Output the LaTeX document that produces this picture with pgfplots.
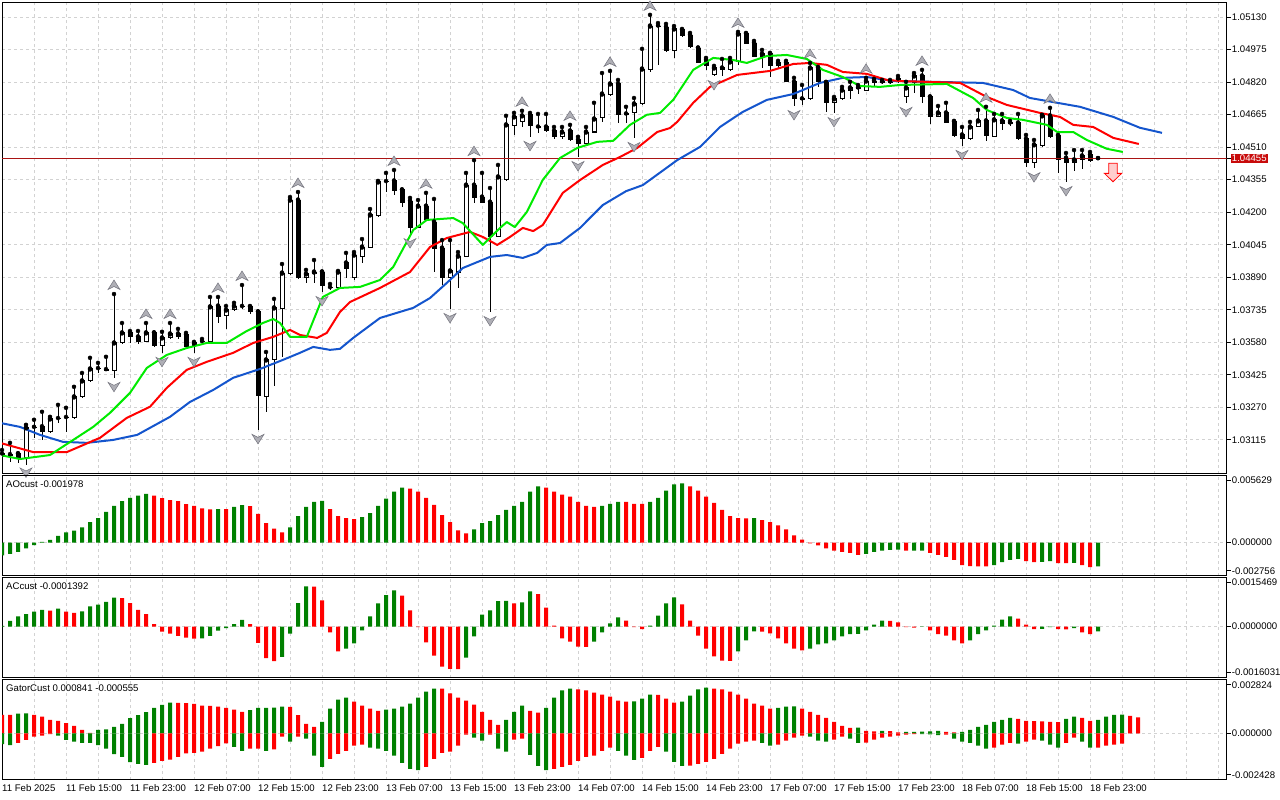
\documentclass[border=0pt]{standalone}
\usepackage{fontspec}
\setmainfont{Liberation Sans}
\usepackage{pgfplots}
\pgfplotsset{compat=1.18}
\usepackage{pgfplotstable}

\definecolor{jaw}{RGB}{20,85,205}
\definecolor{teeth}{RGB}{255,0,0}
\definecolor{lips}{RGB}{0,235,0}
\definecolor{aogreen}{RGB}{0,128,0}
\definecolor{aored}{RGB}{255,0,0}
\definecolor{gridc}{RGB}{210,210,210}
\definecolor{pline}{RGB}{170,20,20}
\definecolor{pbox}{RGB}{200,10,10}
\definecolor{fracfill}{RGB}{175,175,182}
\definecolor{fracdraw}{RGB}{115,115,125}
\definecolor{sigfill}{RGB}{255,205,205}

\newcommand\lf{\fontsize{9.6pt}{11pt}\selectfont}

\pgfdeclareplotmark{fup}{%
  \pgfpathmoveto{\pgfqpoint{0pt}{5pt}}%
  \pgfpathlineto{\pgfqpoint{6pt}{-4.5pt}}%
  \pgfpathlineto{\pgfqpoint{0pt}{-1.5pt}}%
  \pgfpathlineto{\pgfqpoint{-6pt}{-4.5pt}}%
  \pgfpathclose
  \pgfusepathqfillstroke}
\pgfdeclareplotmark{fdown}{%
  \pgfpathmoveto{\pgfqpoint{0pt}{-5pt}}%
  \pgfpathlineto{\pgfqpoint{6pt}{4.5pt}}%
  \pgfpathlineto{\pgfqpoint{0pt}{1.5pt}}%
  \pgfpathlineto{\pgfqpoint{-6pt}{4.5pt}}%
  \pgfpathclose
  \pgfusepathqfillstroke}

\pgfplotsset{
  mt/.style={scale only axis, width=1224.7pt, xmin=0, xmax=153.0875,
    axis line style={line width=0.9pt, black},
    xtick={0,4,...,152}, xticklabel={\relax}, xmajorgrids,
    x tick style={draw=none},
    scaled y ticks=false, scaled x ticks=false,
    grid style={gridc, dash pattern=on 3pt off 3pt, line width=0.9pt},
    ytick pos=right, yticklabel pos=right,
    tick align=outside, major tick length=4pt,
    y tick style={black, line width=0.9pt},
    tick label style={font=\lf},
    yticklabel style={inner sep=1pt},
  },
}

\pgfplotstableread{
k O H L C
0 1.03048 1.03067 1.03019 1.03038
1 1.03043 1.03101 1.03010 1.03045
2 1.03048 1.03052 1.03005 1.03029
3 1.03029 1.03187 1.02996 1.03173
4 1.03173 1.03211 1.03125 1.03175
5 1.03178 1.03249 1.03115 1.03154
6 1.03154 1.03225 1.03149 1.03215
7 1.03215 1.03282 1.03196 1.03217
8 1.03220 1.03268 1.03154 1.03222
9 1.03220 1.03368 1.03215 1.03320
10 1.03320 1.03434 1.03315 1.03396
11 1.03396 1.03506 1.03391 1.03453
12 1.03453 1.03482 1.03434 1.03455
13 1.03448 1.03511 1.03444 1.03450
14 1.03444 1.03810 1.03411 1.03577
15 1.03577 1.03672 1.03572 1.03625
16 1.03625 1.03634 1.03577 1.03606
17 1.03606 1.03634 1.03572 1.03582
18 1.03582 1.03672 1.03580 1.03625
19 1.03625 1.03627 1.03558 1.03563
20 1.03563 1.03630 1.03530 1.03601
21 1.03601 1.03672 1.03596 1.03620
22 1.03620 1.03644 1.03596 1.03610
23 1.03615 1.03625 1.03553 1.03558
24 1.03563 1.03582 1.03530 1.03577
25 1.03582 1.03596 1.03572 1.03584
26 1.03582 1.03796 1.03580 1.03749
27 1.03753 1.03796 1.03672 1.03701
28 1.03706 1.03753 1.03644 1.03734
29 1.03734 1.03768 1.03730 1.03753
30 1.03749 1.03853 1.03739 1.03751
31 1.03749 1.03753 1.03715 1.03725
32 1.03725 1.03727 1.03163 1.03325
33 1.03320 1.03534 1.03249 1.03496
34 1.03496 1.03787 1.03373 1.03744
35 1.03739 1.03953 1.03511 1.03910
36 1.03906 1.04272 1.03901 1.04258
37 1.04258 1.04296 1.03882 1.03891
38 1.03891 1.03925 1.03863 1.03906
39 1.03906 1.03972 1.03863 1.03915
40 1.03915 1.03917 1.03820 1.03849
41 1.03839 1.03858 1.03830 1.03841
42 1.03839 1.03920 1.03834 1.03915
43 1.03958 1.04006 1.03887 1.03934
44 1.03891 1.04010 1.03877 1.03996
45 1.03987 1.04072 1.03958 1.04034
46 1.04034 1.04215 1.04029 1.04187
47 1.04182 1.04349 1.04177 1.04344
48 1.04344 1.04387 1.04296 1.04346
49 1.04349 1.04401 1.04282 1.04301
50 1.04306 1.04308 1.04225 1.04248
51 1.04253 1.04268 1.04096 1.04129
52 1.04129 1.04258 1.04127 1.04229
53 1.04229 1.04292 1.04160 1.04163
54 1.04153 1.04263 1.03915 1.04029
55 1.04029 1.04067 1.03853 1.03891
56 1.03891 1.04067 1.03739 1.03920
57 1.03915 1.04010 1.03839 1.03991
58 1.03991 1.04387 1.03986 1.04329
59 1.04329 1.04448 1.04244 1.04272
60 1.04272 1.04387 1.04244 1.04248
61 1.04248 1.04315 1.03725 1.04086
62 1.04086 1.04425 1.04082 1.04368
63 1.04358 1.04659 1.04349 1.04616
64 1.04611 1.04673 1.04568 1.04654
65 1.04630 1.04683 1.04606 1.04659
66 1.04664 1.04673 1.04559 1.04611
67 1.04606 1.04668 1.04578 1.04604
68 1.04606 1.04668 1.04582 1.04587
69 1.04587 1.04606 1.04549 1.04559
70 1.04559 1.04606 1.04549 1.04582
71 1.04587 1.04616 1.04540 1.04544
72 1.04544 1.04559 1.04463 1.04525
73 1.04525 1.04606 1.04516 1.04582
74 1.04582 1.04721 1.04578 1.04644
75 1.04649 1.04863 1.04630 1.04763
76 1.04763 1.04873 1.04754 1.04811
77 1.04811 1.04830 1.04625 1.04664
78 1.04668 1.04702 1.04625 1.04666
79 1.04673 1.04744 1.04554 1.04716
80 1.04716 1.04978 1.04711 1.04882
81 1.04878 1.05140 1.04868 1.05087
82 1.05087 1.05101 1.04902 1.05085
83 1.05082 1.05097 1.04963 1.04968
84 1.04968 1.05087 1.04935 1.05073
85 1.05068 1.05073 1.05035 1.05040
86 1.05044 1.05054 1.04982 1.04987
87 1.04982 1.04984 1.04909 1.04911
88 1.04925 1.04935 1.04878 1.04897
89 1.04854 1.04897 1.04849 1.04887
90 1.04887 1.04930 1.04849 1.04882
91 1.04882 1.04935 1.04873 1.04916
92 1.04916 1.05059 1.04902 1.05049
93 1.05049 1.05054 1.05004 1.05006
94 1.05006 1.05016 1.04940 1.04944
95 1.04944 1.04973 1.04887 1.04954
96 1.04954 1.04959 1.04844 1.04897
97 1.04897 1.04921 1.04887 1.04911
98 1.04911 1.04921 1.04819 1.04821
99 1.04821 1.04840 1.04706 1.04740
100 1.04740 1.04806 1.04709 1.04738
101 1.04740 1.04911 1.04735 1.04887
102 1.04887 1.04892 1.04797 1.04821
103 1.04816 1.04821 1.04678 1.04721
104 1.04721 1.04749 1.04673 1.04740
105 1.04740 1.04797 1.04735 1.04782
106 1.04782 1.04821 1.04740 1.04792
107 1.04792 1.04806 1.04763 1.04790
108 1.04782 1.04840 1.04778 1.04825
109 1.04825 1.04835 1.04802 1.04816
110 1.04821 1.04830 1.04811 1.04819
111 1.04819 1.04830 1.04811 1.04821
112 1.04835 1.04849 1.04816 1.04833
113 1.04749 1.04821 1.04721 1.04792
114 1.04816 1.04863 1.04768 1.04849
115 1.04849 1.04878 1.04721 1.04749
116 1.04749 1.04751 1.04621 1.04654
117 1.04654 1.04706 1.04652 1.04673
118 1.04673 1.04721 1.04623 1.04625
119 1.04630 1.04635 1.04559 1.04564
120 1.04568 1.04606 1.04516 1.04549
121 1.04549 1.04630 1.04544 1.04606
122 1.04606 1.04687 1.04604 1.04635
123 1.04635 1.04702 1.04540 1.04564
124 1.04559 1.04668 1.04557 1.04640
125 1.04635 1.04668 1.04592 1.04621
126 1.04625 1.04635 1.04611 1.04623
127 1.04625 1.04668 1.04544 1.04549
128 1.04549 1.04568 1.04415 1.04439
129 1.04439 1.04544 1.04410 1.04521
130 1.04516 1.04664 1.04511 1.04659
131 1.04659 1.04697 1.04554 1.04559
132 1.04564 1.04568 1.04387 1.04453
133 1.04458 1.04482 1.04344 1.04439
134 1.04439 1.04496 1.04396 1.04449
135 1.04449 1.04496 1.04406 1.04468
136 1.04473 1.04487 1.04439 1.04444
137 1.04455 1.04458 1.04453 1.04455
}\candles

\pgfplotstableread{
k p
-0.25 1.03196
2.25 1.03177
4.75 1.03139
7.6 1.03106
10.6 1.03101
13.9 1.03115
16.9 1.03139
21 1.03225
23.5 1.03296
26.4 1.03353
28.9 1.03411
32.25 1.03453
35.1 1.03496
37.25 1.03530
38.9 1.03558
41 1.03544
42.25 1.03549
43.9 1.03601
47.25 1.03696
51.4 1.03744
53.5 1.03791
55.6 1.03863
57.6 1.03934
61 1.03987
63.1 1.03996
65.1 1.03982
66.9 1.04006
68.1 1.04044
69.75 1.04053
72.25 1.04125
75.1 1.04234
78 1.04300
80.1 1.04329
84.4 1.04448
87.25 1.04511
89.75 1.04606
92.6 1.04678
95.6 1.04735
98.9 1.04763
102.25 1.04816
105.1 1.04840
108.1 1.04844
111.4 1.04825
122.6 1.04816
126.4 1.04782
128.5 1.04744
134.75 1.04702
138.9 1.04654
142.25 1.04602
145 1.04578
}\jawline

\pgfplotstableread{
k p
-0.25 1.03101
3.9 1.03057
8.1 1.03057
12.25 1.03125
15.6 1.03220
18.5 1.03273
20.6 1.03363
23.1 1.03449
25.6 1.03487
28.9 1.03530
31.4 1.03577
33.9 1.03606
36 1.03639
37.25 1.03615
39.4 1.03601
40.6 1.03625
42.25 1.03725
43.5 1.03772
47.25 1.03839
51 1.03915
53.5 1.04034
55.6 1.04077
58.5 1.04106
60.1 1.04082
61.9 1.04044
63.5 1.04082
65.1 1.04125
66.4 1.04110
67.6 1.04139
70.1 1.04292
72.25 1.04353
75.1 1.04425
77.25 1.04463
79.4 1.04506
81.9 1.04582
83.5 1.04601
84.4 1.04630
86.4 1.04721
88.5 1.04797
91.9 1.04854
96 1.04873
98.9 1.04906
101 1.04911
103.1 1.04902
105.1 1.04868
108.1 1.04859
110.6 1.04830
112.25 1.04825
119.75 1.04816
123.1 1.04749
125.6 1.04711
129.75 1.04673
132.25 1.04654
133.9 1.04616
136.4 1.04606
138.9 1.04554
142.1 1.04525
}\teethline

\pgfplotstableread{
k p
-0.25 1.03043
2.25 1.03024
6 1.03043
8.9 1.03115
11.4 1.03177
13.5 1.03244
16 1.03339
18.1 1.03458
20.6 1.03520
23.1 1.03553
25.6 1.03577
28.1 1.03577
30.6 1.03634
32.6 1.03672
33.9 1.03691
34.75 1.03672
36 1.03606
38.1 1.03606
40.1 1.03796
42.25 1.03839
44.75 1.03844
47.25 1.03877
48.9 1.03939
51.4 1.04115
53.1 1.04163
56.4 1.04172
57.6 1.04148
60.1 1.04044
62.25 1.04125
63.1 1.04153
64.1 1.04129
65.6 1.04201
67.6 1.04354
69.75 1.04458
71.9 1.04506
74.4 1.04535
76.4 1.04540
78.5 1.04616
80.6 1.04664
82.25 1.04673
83.9 1.04735
86.4 1.04878
88.9 1.04935
91.4 1.04925
93.1 1.04911
95.6 1.04944
98.1 1.04949
100.6 1.04930
102.6 1.04878
105.1 1.04844
107.25 1.04801
109.75 1.04797
112.25 1.04806
118.1 1.04811
121.4 1.04744
123.1 1.04687
125.6 1.04649
127.6 1.04640
130.6 1.04616
131.9 1.04582
133.9 1.04582
135.6 1.04544
138.1 1.04502
140.1 1.04487
}\lipsline

\pgfplotstableread{
k p
14 1.03853
18 1.03715
21 1.03715
27 1.03839
30 1.03896
37 1.04339
49 1.04444
53 1.04335
59 1.04491
65 1.04726
71 1.04659
76 1.04916
81 1.05183
92 1.05102
101 1.04954
108 1.04883
115 1.04921
123 1.04745
131 1.04740
}\fracup

\pgfplotstableread{
k p
3 1.02960
14 1.03368
20 1.03487
24 1.03487
32 1.03120
40 1.03777
51 1.04053
56 1.03696
61 1.03682
66 1.04516
72 1.04420
79 1.04511
89 1.04806
99 1.04663
104 1.04630
113 1.04678
120 1.04473
129 1.04367
133 1.04301
}\fracdown

\pgfplotstableread{
k v c
0 -0.00106 1
1 -0.00094 1
2 -0.00077 1
3 -0.00048 1
4 -0.00020 1
5 0.00006 1
6 0.00023 1
7 0.00057 1
8 0.00086 1
9 0.00100 1
10 0.00128 1
11 0.00171 1
12 0.00205 1
13 0.00257 1
14 0.00308 1
15 0.00348 1
16 0.00376 1
17 0.00394 1
18 0.00408 1
19 0.00394 0
20 0.00374 0
21 0.00357 0
22 0.00348 0
23 0.00322 0
24 0.00308 0
25 0.00288 0
26 0.00278 0
27 0.00282 1
28 0.00280 0
29 0.00300 1
30 0.00314 1
31 0.00306 0
32 0.00242 0
33 0.00163 0
34 0.00117 0
35 0.00086 0
36 0.00128 1
37 0.00222 1
38 0.00299 1
39 0.00342 1
40 0.00351 1
41 0.00282 0
42 0.00222 0
43 0.00205 0
44 0.00197 0
45 0.00214 1
46 0.00248 1
47 0.00308 1
48 0.00368 1
49 0.00428 1
50 0.00462 1
51 0.00453 0
52 0.00428 0
53 0.00376 0
54 0.00317 0
55 0.00231 0
56 0.00171 0
57 0.00103 0
58 0.00077 0
59 0.00111 1
60 0.00163 1
61 0.00180 1
62 0.00231 1
63 0.00274 1
64 0.00308 1
65 0.00342 1
66 0.00428 1
67 0.00471 1
68 0.00462 0
69 0.00428 0
70 0.00402 0
71 0.00385 0
72 0.00342 0
73 0.00308 0
74 0.00299 0
75 0.00308 1
76 0.00325 1
77 0.00342 1
78 0.00341 0
79 0.00325 0
80 0.00324 0
81 0.00342 1
82 0.00376 1
83 0.00436 1
84 0.00488 1
85 0.00496 1
86 0.00471 0
87 0.00436 0
88 0.00385 0
89 0.00334 0
90 0.00274 0
91 0.00222 0
92 0.00205 0
93 0.00204 0
94 0.00206 1
95 0.00188 0
96 0.00171 0
97 0.00145 0
98 0.00111 0
99 0.00060 0
100 0.00026 0
101 -0.00006 0
102 -0.00023 0
103 -0.00048 0
104 -0.00068 0
105 -0.00077 0
106 -0.00086 0
107 -0.00103 0
108 -0.00094 1
109 -0.00077 1
110 -0.00068 1
111 -0.00060 1
112 -0.00059 1
113 -0.00068 0
114 -0.00067 1
115 -0.00066 1
116 -0.00086 0
117 -0.00103 0
118 -0.00120 0
119 -0.00145 0
120 -0.00188 0
121 -0.00197 0
122 -0.00198 0
123 -0.00199 0
124 -0.00188 1
125 -0.00163 1
126 -0.00145 1
127 -0.00137 1
128 -0.00154 0
129 -0.00163 0
130 -0.00162 1
131 -0.00154 1
132 -0.00171 0
133 -0.00172 0
134 -0.00170 1
135 -0.00188 0
136 -0.00205 0
137 -0.00198 1
}\ao

\pgfplotstableread{
k v c
0 0.00002 1
1 0.00018 1
2 0.00032 1
3 0.00039 1
4 0.00047 1
5 0.00053 1
6 0.00050 0
7 0.00057 1
8 0.00047 0
9 0.00043 0
10 0.00048 1
11 0.00064 1
12 0.00069 1
13 0.00078 1
14 0.00091 1
15 0.00090 0
16 0.00074 0
17 0.00053 0
18 0.00039 0
19 0.00008 0
20 -0.00016 0
21 -0.00022 0
22 -0.00029 0
23 -0.00035 0
24 -0.00038 0
25 -0.00037 1
26 -0.00029 1
27 -0.00013 1
28 -0.00005 1
29 0.00008 1
30 0.00021 1
31 0.00008 0
32 -0.00051 0
33 -0.00099 0
34 -0.00109 0
35 -0.00095 1
36 -0.00022 1
37 0.00074 1
38 0.00127 1
39 0.00126 0
40 0.00083 0
41 -0.00018 0
42 -0.00078 0
43 -0.00069 1
44 -0.00053 1
45 -0.00012 1
46 0.00032 1
47 0.00073 1
48 0.00099 1
49 0.00114 1
50 0.00098 0
51 0.00051 0
52 -0.00002 0
53 -0.00050 0
54 -0.00091 0
55 -0.00126 0
56 -0.00133 0
57 -0.00134 0
58 -0.00098 1
59 -0.00031 1
60 0.00038 1
61 0.00051 1
62 0.00080 1
63 0.00081 1
64 0.00073 0
65 0.00076 1
66 0.00111 1
67 0.00102 0
68 0.00060 0
69 0.00003 0
70 -0.00037 0
71 -0.00047 0
72 -0.00063 0
73 -0.00064 0
74 -0.00047 1
75 -0.00018 1
76 0.00010 1
77 0.00029 1
78 0.00019 0
79 -0.00002 0
80 -0.00008 0
81 0.00003 1
82 0.00035 1
83 0.00073 1
84 0.00092 1
85 0.00070 0
86 0.00019 0
87 -0.00028 0
88 -0.00069 0
89 -0.00094 0
90 -0.00107 0
91 -0.00108 0
92 -0.00078 1
93 -0.00043 1
94 -0.00015 1
95 -0.00016 0
96 -0.00021 0
97 -0.00037 0
98 -0.00053 0
99 -0.00069 0
100 -0.00075 0
101 -0.00069 1
102 -0.00056 1
103 -0.00053 1
104 -0.00043 1
105 -0.00031 1
106 -0.00024 1
107 -0.00023 1
108 -0.00012 1
109 0.00006 1
110 0.00019 1
111 0.00018 0
112 0.00013 0
113 -0.00002 0
114 -0.00003 0
115 0.00001 1
116 -0.00012 0
117 -0.00024 0
118 -0.00028 0
119 -0.00043 0
120 -0.00053 0
121 -0.00043 1
122 -0.00024 1
123 -0.00012 1
124 0.00003 1
125 0.00022 1
126 0.00032 1
127 0.00025 0
128 0.00006 0
129 -0.00008 0
130 -0.00007 1
131 -0.00002 1
132 -0.00008 0
133 -0.00009 0
134 -0.00005 1
135 -0.00018 0
136 -0.00024 0
137 -0.00015 1
}\ac

\pgfplotstableread{
k u cu l cl
0 0.00097 0 -0.00057 1
1 0.00096 0 -0.00062 1
2 0.00103 1 -0.00050 0
3 0.00104 1 -0.00035 0
4 0.00097 0 -0.00018 0
5 0.00087 0 -0.00012 0
6 0.00071 0 -0.00004 0
7 0.00065 0 -0.00012 1
8 0.00053 0 -0.00035 1
9 0.00039 0 -0.00044 1
10 0.00018 0 -0.00050 1
11 0.00002 0 -0.00051 1
12 0.00018 1 -0.00062 1
13 0.00021 1 -0.00081 1
14 0.00034 1 -0.00110 1
15 0.00050 1 -0.00124 1
16 0.00080 1 -0.00152 1
17 0.00095 1 -0.00161 1
18 0.00111 1 -0.00166 1
19 0.00134 1 -0.00156 0
20 0.00149 1 -0.00145 0
21 0.00161 1 -0.00138 0
22 0.00160 0 -0.00124 0
23 0.00159 0 -0.00106 0
24 0.00154 0 -0.00103 0
25 0.00145 0 -0.00097 0
26 0.00144 0 -0.00081 0
27 0.00140 0 -0.00067 0
28 0.00133 0 -0.00053 0
29 0.00124 0 -0.00071 1
30 0.00113 0 -0.00092 1
31 0.00122 1 -0.00081 0
32 0.00133 1 -0.00080 0
33 0.00134 1 -0.00092 1
34 0.00135 1 -0.00085 0
35 0.00140 1 -0.00018 0
36 0.00139 0 -0.00044 1
37 0.00095 0 -0.00018 0
38 0.00050 0 -0.00028 1
39 0.00034 0 -0.00118 1
40 0.00060 1 -0.00177 1
41 0.00129 1 -0.00134 0
42 0.00177 1 -0.00108 0
43 0.00187 1 -0.00092 0
44 0.00166 0 -0.00065 0
45 0.00145 0 -0.00060 0
46 0.00129 0 -0.00076 1
47 0.00118 0 -0.00081 1
48 0.00124 1 -0.00092 1
49 0.00129 1 -0.00118 1
50 0.00140 1 -0.00156 1
51 0.00156 1 -0.00187 1
52 0.00187 1 -0.00193 1
53 0.00219 1 -0.00177 0
54 0.00235 1 -0.00134 0
55 0.00234 0 -0.00103 0
56 0.00209 0 -0.00097 0
57 0.00187 0 -0.00065 0
58 0.00171 0 -0.00007 0
59 0.00150 0 -0.00023 1
60 0.00113 0 -0.00039 1
61 0.00071 0 -0.00007 0
62 0.00044 0 -0.00081 1
63 0.00071 1 -0.00097 1
64 0.00113 1 -0.00034 0
65 0.00145 1 -0.00028 0
66 0.00118 0 -0.00113 1
67 0.00108 0 -0.00171 1
68 0.00134 1 -0.00193 1
69 0.00187 1 -0.00187 0
70 0.00225 1 -0.00177 0
71 0.00235 1 -0.00166 0
72 0.00230 0 -0.00145 0
73 0.00225 0 -0.00124 0
74 0.00214 0 -0.00118 0
75 0.00203 0 -0.00092 0
76 0.00193 0 -0.00076 0
77 0.00171 0 -0.00092 1
78 0.00166 0 -0.00118 1
79 0.00167 1 -0.00140 1
80 0.00182 1 -0.00129 0
81 0.00203 1 -0.00092 0
82 0.00202 0 -0.00071 0
83 0.00182 0 -0.00097 1
84 0.00161 0 -0.00150 1
85 0.00166 1 -0.00171 1
86 0.00198 1 -0.00170 0
87 0.00230 1 -0.00161 0
88 0.00240 1 -0.00150 0
89 0.00235 0 -0.00134 0
90 0.00230 0 -0.00108 0
91 0.00219 0 -0.00081 0
92 0.00203 0 -0.00055 0
93 0.00182 0 -0.00044 0
94 0.00156 0 -0.00039 0
95 0.00145 0 -0.00050 1
96 0.00129 0 -0.00065 1
97 0.00134 1 -0.00060 0
98 0.00140 1 -0.00039 0
99 0.00141 1 -0.00023 0
100 0.00129 0 -0.00012 0
101 0.00113 0 -0.00018 1
102 0.00097 0 -0.00039 1
103 0.00081 0 -0.00044 1
104 0.00060 0 -0.00034 0
105 0.00039 0 -0.00018 0
106 0.00028 0 -0.00028 1
107 0.00030 1 -0.00050 1
108 0.00012 0 -0.00049 0
109 0.00010 0 -0.00034 0
110 0.00012 1 -0.00023 0
111 0.00011 0 -0.00018 0
112 0.00005 0 -0.00012 0
113 0.00007 1 -0.00007 0
114 0.00008 1 -0.00004 0
115 0.00009 1 -0.00005 1
116 0.00010 1 -0.00006 1
117 0.00012 1 -0.00010 1
118 0.00008 0 -0.00007 0
119 0.00005 0 -0.00028 1
120 0.00007 1 -0.00044 1
121 0.00018 1 -0.00050 1
122 0.00034 1 -0.00065 1
123 0.00044 1 -0.00081 1
124 0.00060 1 -0.00076 0
125 0.00071 1 -0.00060 0
126 0.00081 1 -0.00050 0
127 0.00076 0 -0.00055 1
128 0.00065 0 -0.00044 0
129 0.00064 0 -0.00034 0
130 0.00063 0 -0.00039 1
131 0.00060 0 -0.00060 1
132 0.00059 0 -0.00076 1
133 0.00076 1 -0.00050 0
134 0.00087 1 -0.00023 0
135 0.00081 0 -0.00044 1
136 0.00065 0 -0.00076 1
137 0.00071 1 -0.00076 0
138 0.00087 1 -0.00065 0
139 0.00097 1 -0.00060 0
140 0.00098 1 -0.00055 0
141 0.00092 0 0 0
142 0.00084 0 0 0
}\gator

\begin{document}
\begin{tikzpicture}
\useasboundingbox (0,0) rectangle (1280pt,-800pt);

%================ MAIN PRICE PANEL =================
\begin{axis}[mt, at={(2pt,-2.5pt)}, anchor=north west, height=471pt,
  ymin=1.02955, ymax=1.05199,
  ytick={1.03115,1.03270,1.03425,1.03580,1.03735,1.03890,1.04045,1.04200,1.04355,1.04510,1.04665,1.04820,1.04975,1.05130},
  yticklabels={1.03115,1.03270,1.03425,1.03580,1.03735,1.03890,1.04045,1.04200,1.04355,1.04510,1.04665,1.04820,1.04975,1.05130},
  ymajorgrids,
  extra y ticks={1.04455}, extra y tick labels={1.04455},
  extra y tick style={grid=none, tick label style={fill=pbox, text=white, inner sep=1.5pt}},
]
% wicks
\addplot[only marks, mark=none, forget plot,
  error bars/.cd, y dir=minus, y explicit, error mark=none,
  error bar style={draw=black, line width=1pt}]
  table[x=k, y=H, y error minus expr={\thisrow{H}-\thisrow{L}}]{\candles};
% bodies (black outline / black fill)
\addplot[only marks, mark=none, forget plot,
  error bars/.cd, y dir=minus, y explicit, error mark=none,
  error bar style={draw=black, line width=5pt}]
  table[x=k, y expr={max(\thisrow{O},\thisrow{C})+0.0000238},
        y error minus expr={abs(\thisrow{O}-\thisrow{C})+0.0000476}]{\candles};
% white interior of bullish bodies
\addplot[only marks, mark=none, forget plot,
  restrict expr to domain={\thisrow{C}-\thisrow{O}}{0.00007:1},
  error bars/.cd, y dir=minus, y explicit, error mark=none,
  error bar style={draw=white, line width=3pt}]
  table[x=k, y expr={\thisrow{C}-0.0000238},
        y error minus expr={\thisrow{C}-\thisrow{O}-0.0000476}]{\candles};
% current price line
\addplot[pline, line width=0.9pt] coordinates {(0,1.04455) (153.1,1.04455)};
% alligator
\addplot[jaw, line width=2pt, line join=round] table[x=k,y=p]{\jawline};
\addplot[teeth, line width=2pt, line join=round] table[x=k,y=p]{\teethline};
\addplot[lips, line width=2pt, line join=round] table[x=k,y=p]{\lipsline};
% fractals
\addplot[only marks, mark=fup, mark options={fill=fracfill, draw=fracdraw, line width=0.5pt}] table[x=k,y=p]{\fracup};
\addplot[only marks, mark=fdown, mark options={fill=fracfill, draw=fracdraw, line width=0.5pt}] table[x=k,y=p]{\fracdown};
% sell signal arrow
\addplot[draw=red, fill=sigfill, line width=0.8pt] coordinates {
 (138.35,1.04433) (139.4,1.04433) (139.4,1.04385) (139.95,1.04385)
 (138.875,1.04345) (137.8,1.04385) (138.35,1.04385)} -- cycle;
\end{axis}

%================ AO PANEL =================
\begin{axis}[mt, at={(2pt,-475.5pt)}, anchor=north west, height=100pt,
  ymin=-0.002756, ymax=0.005629,
  ytick={0}, yticklabels={0.000000}, ymajorgrids,
  extra y ticks={-0.00237,0.00520}, extra y tick labels={-0.002756,0.005629},
  extra y tick style={grid=none}]
\addplot[ybar, bar width=4pt, bar shift=0pt, fill=aogreen, draw=none,
  restrict expr to domain={\thisrow{c}}{0.5:1.5}] table[x=k,y=v]{\ao};
\addplot[ybar, bar width=4pt, bar shift=0pt, fill=aored, draw=none,
  restrict expr to domain={\thisrow{c}}{-0.5:0.5}] table[x=k,y=v]{\ao};
\node[anchor=north west, font=\lf, inner sep=0pt, xshift=4pt, yshift=-5pt] at (rel axis cs:0,1) {AOcust -0.001978};
\end{axis}

%================ AC PANEL =================
\begin{axis}[mt, at={(2pt,-577.5pt)}, anchor=north west, height=100pt,
  ymin=-0.0016031, ymax=0.0015469,
  ytick={0}, yticklabels={0.0000000}, ymajorgrids,
  extra y ticks={-0.00144,0.00139}, extra y tick labels={-0.0016031,0.0015469},
  extra y tick style={grid=none}]
\addplot[ybar, bar width=4pt, bar shift=0pt, fill=aogreen, draw=none,
  restrict expr to domain={\thisrow{c}}{0.5:1.5}] table[x=k,y=v]{\ac};
\addplot[ybar, bar width=4pt, bar shift=0pt, fill=aored, draw=none,
  restrict expr to domain={\thisrow{c}}{-0.5:0.5}] table[x=k,y=v]{\ac};
\node[anchor=north west, font=\lf, inner sep=0pt, xshift=4pt, yshift=-5pt] at (rel axis cs:0,1) {ACcust -0.0001392};
\end{axis}

%================ GATOR PANEL =================
\begin{axis}[mt, at={(2pt,-679.5pt)}, anchor=north west, height=100pt,
  ymin=-0.002428, ymax=0.002824,
  ytick={0}, yticklabels={0.000000}, ymajorgrids,
  extra y ticks={-0.00218,0.00254}, extra y tick labels={-0.002428,0.002824},
  extra y tick style={grid=none},
  xtick={0,8,...,136},
  xticklabel={\pgfmathprintnumber{\tick}},
  xticklabels={11 Feb 2025,11 Feb 15:00,11 Feb 23:00,12 Feb 07:00,12 Feb 15:00,12 Feb 23:00,13 Feb 07:00,13 Feb 15:00,13 Feb 23:00,14 Feb 07:00,14 Feb 15:00,14 Feb 23:00,17 Feb 07:00,17 Feb 15:00,17 Feb 23:00,18 Feb 07:00,18 Feb 15:00,18 Feb 23:00},
  xticklabel style={anchor=north west, inner sep=1pt, xshift=-1pt},
  minor xtick={4,12,...,148,144,152}, xminorgrids,
  minor grid style={gridc, dash pattern=on 3pt off 3pt, line width=0.9pt},
  xtick pos=bottom,
  x tick style={black, line width=0.9pt},
  minor x tick style={draw=none}]
\addplot[ybar, bar width=4pt, bar shift=0pt, fill=aogreen, draw=none,
  restrict expr to domain={\thisrow{cu}}{0.5:1.5}] table[x=k,y=u]{\gator};
\addplot[ybar, bar width=4pt, bar shift=0pt, fill=aored, draw=none,
  restrict expr to domain={\thisrow{cu}}{-0.5:0.5}] table[x=k,y=u]{\gator};
\addplot[ybar, bar width=4pt, bar shift=0pt, fill=aogreen, draw=none,
  restrict expr to domain={\thisrow{cl}}{0.5:1.5}] table[x=k,y=l]{\gator};
\addplot[ybar, bar width=4pt, bar shift=0pt, fill=aored, draw=none,
  restrict expr to domain={\thisrow{cl}}{-0.5:0.5}] table[x=k,y=l]{\gator};
\node[anchor=north west, font=\lf, inner sep=0pt, xshift=4pt, yshift=-5pt] at (rel axis cs:0,1) {GatorCust 0.000841 -0.000555};
\end{axis}
\end{tikzpicture}
\end{document}
